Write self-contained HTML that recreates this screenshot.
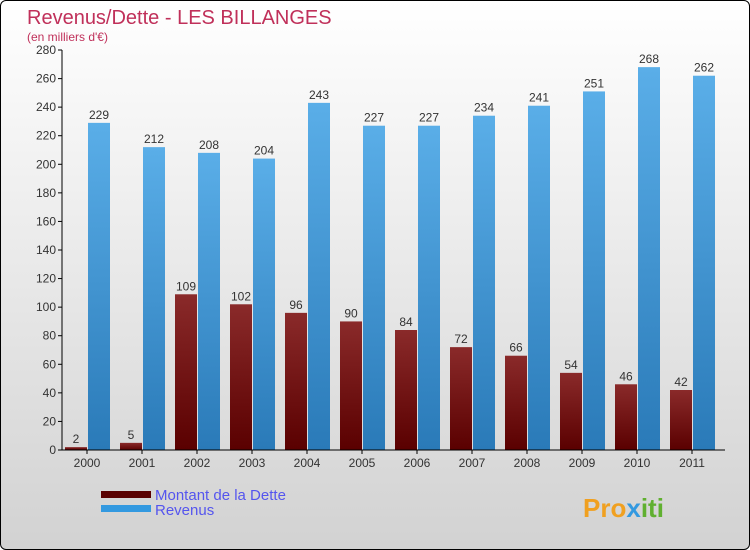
<!DOCTYPE html>
<html><head><meta charset="utf-8"><style>
body{margin:0;}
#c{position:relative;width:748px;height:548px;border:1px solid #000;border-radius:6px;overflow:hidden;background:linear-gradient(#ffffff,#d2d2d2);font-family:"Liberation Sans",sans-serif;}
</style></head><body>
<div id="c">
<svg id="s" width="748" height="548" xmlns="http://www.w3.org/2000/svg">
<defs>
<linearGradient id="gd" x1="0" x2="0" y1="0" y2="1"><stop offset="0" stop-color="#8a2a2a"/><stop offset="1" stop-color="#5a0000"/></linearGradient>
<linearGradient id="gr" x1="0" x2="0" y1="0" y2="1"><stop offset="0" stop-color="#5aaee8"/><stop offset="1" stop-color="#2a7ab8"/></linearGradient>
</defs>
<text x="26" y="23" font-size="20" fill="#c0305a">Revenus/Dette - LES BILLANGES</text>
<text x="26" y="40" font-size="12" fill="#c0305a">(en milliers d'€)</text>
<g id="plot"></g>
<rect x="100" y="490" width="50" height="7" fill="#5a0000"/>
<rect x="100" y="504" width="50" height="7" fill="#3399e0"/>
<text x="154" y="499" font-size="15" fill="#5555ee">Montant de la Dette</text>
<text x="154" y="514" font-size="15" fill="#5555ee">Revenus</text>
<text x="582" y="516" font-size="26" font-weight="bold" fill="#f0a020">Pro<tspan fill="#3399e0">x</tspan><tspan fill="#60b030">iti</tspan></text>
</svg>
</div>
<script>
const years=["2000","2001","2002","2003","2004","2005","2006","2007","2008","2009","2010","2011"];
const dette=[2,5,109,102,96,90,84,72,66,54,46,42];
const revenus=[229,212,208,204,243,227,227,234,241,251,268,262];
const ticks=[0,20,40,60,80,100,120,140,160,180,200,220,240,260,280];
const ns="http://www.w3.org/2000/svg";
const g=document.getElementById('plot');
const y0=449,ppu=400/280;
function Y(v){return y0-v*ppu;}
function X(i){return 86+i*55;}
function mk(t,a){const e=document.createElementNS(ns,t);for(const k in a)e.setAttribute(k,a[k]);g.appendChild(e);return e;}
ticks.forEach(t=>{
 const l=mk('line',{x1:57,x2:61,y1:Y(t),y2:Y(t),stroke:'#000'});
 
 
 const tx=mk('text',{x:55,y:Y(t)+4,'font-size':12,fill:'#333','text-anchor':'end'});tx.textContent=t;
 
 
});
years.forEach((yr,i)=>{
 const cx=X(i);
 const b1=mk('rect',{x:cx-22,y:Y(dette[i]),width:22,height:dette[i]*ppu,fill:'url(#gd)'});
 
 
 const b2=mk('rect',{x:cx+1,y:Y(revenus[i]),width:22,height:revenus[i]*ppu,fill:'url(#gr)'});
 
 
 const v1=mk('text',{x:cx-11,y:Y(dette[i])-4,'font-size':12,fill:'#333','text-anchor':'middle'});v1.textContent=dette[i];
 
 
 const v2=mk('text',{x:cx+12,y:Y(revenus[i])-4,'font-size':12,fill:'#333','text-anchor':'middle'});v2.textContent=revenus[i];
 
 
 const tk=mk('line',{x1:cx,x2:cx,y1:y0,y2:y0+4,stroke:'#000'});
 
 
 const xl=mk('text',{x:cx,y:466,'font-size':12,fill:'#333','text-anchor':'middle'});xl.textContent=yr;
 
 
});
const ax=mk('line',{x1:61,x2:61,y1:Y(280),y2:y0,stroke:'#000'});


const bx=mk('line',{x1:61,x2:724,y1:y0,y2:y0,stroke:'#000'});


</script>
</body></html>
